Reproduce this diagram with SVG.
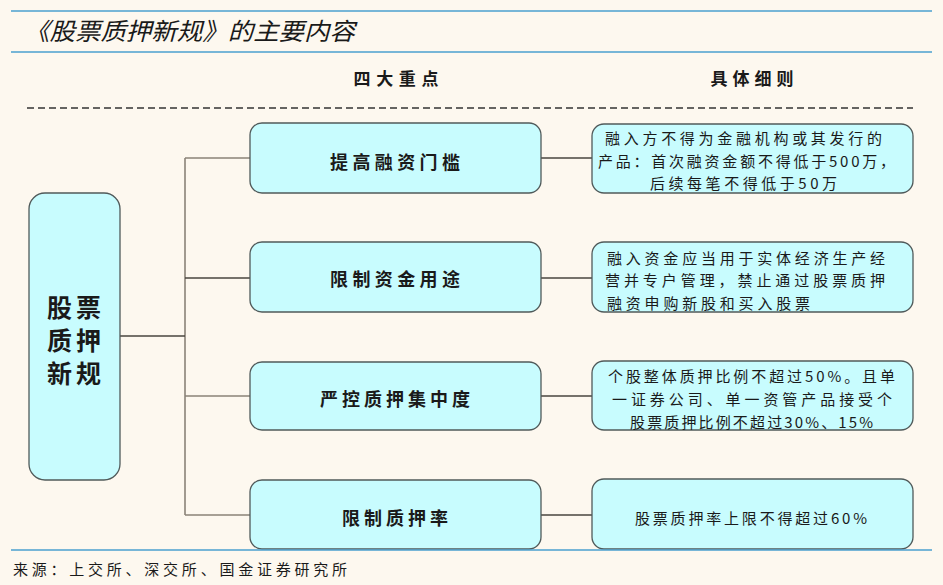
<svg xmlns="http://www.w3.org/2000/svg" width="943" height="585" viewBox="0 0 943 585">
<style>
.t{font-family:"Noto Sans CJK SC","Noto Sans",sans-serif;fill:#1a1a1a}
.mid{font-size:18px;font-weight:bold;text-anchor:middle;dominant-baseline:central}
.det{font-size:15px;dominant-baseline:central}
.hdr{font-size:17px;font-weight:bold;text-anchor:middle;dominant-baseline:central}
.big{font-size:25px;font-weight:bold;letter-spacing:4px;dominant-baseline:central}
.box{fill:#c8fcfe;stroke:#505a5a;stroke-width:1.3}
.conn{fill:none;stroke:#8a8378;stroke-width:1.6}
.connd{fill:none;stroke:#4a4640;stroke-width:1.3}
.blue{stroke:#4aa0cf;stroke-width:1.6}
</style>
<rect width="943" height="585" fill="#fdf8ef"/>
<line class="blue" x1="11" y1="11" x2="932" y2="11"/>
<line class="blue" x1="11" y1="52" x2="932" y2="52"/>
<text class="t" x="24" y="40" font-size="24" font-style="italic" textLength="331" lengthAdjust="spacingAndGlyphs">《股票质押新规》的主要内容</text>
<text class="t hdr" x="396" y="77" textLength="85" lengthAdjust="spacing">四大重点</text>
<text class="t hdr" x="752" y="77" textLength="83" lengthAdjust="spacing">具体细则</text>
<line x1="27" y1="108" x2="913" y2="108" stroke="#333" stroke-width="1.6" stroke-dasharray="7 4"/>
<g id="connectors">
<path class="conn" d="M185 158V515M185 158H250M185 396H250M185 515H250"/>
<path class="connd" d="M120 336H185M185 278H250M541 158H592M541 278H592M541 396H592M541 515H592"/>
</g>
<g id="main">
<rect class="box" x="29" y="193" width="91" height="287" rx="16"/>
<text class="t big" x="47" y="306">股票</text>
<text class="t big" x="47" y="339">质押</text>
<text class="t big" x="47" y="372">新规</text>
</g>
<g id="k1">
<rect class="box" x="250" y="123" width="291" height="70" rx="12"/>
<text class="t mid" x="395" y="161" textLength="130" lengthAdjust="spacing">提高融资门槛</text>
</g>
<g id="k2">
<rect class="box" x="250" y="242" width="291" height="70" rx="12"/>
<text class="t mid" x="395" y="278" textLength="130" lengthAdjust="spacing">限制资金用途</text>
</g>
<g id="k3">
<rect class="box" x="250" y="362" width="291" height="68" rx="12"/>
<text class="t mid" x="395" y="398" textLength="150" lengthAdjust="spacing">严控质押集中度</text>
</g>
<g id="k4">
<rect class="box" x="250" y="480" width="291" height="69" rx="12"/>
<text class="t mid" x="395" y="517" textLength="106" lengthAdjust="spacing">限制质押率</text>
</g>
<g id="d1">
<rect class="box" x="592" y="124" width="321" height="69" rx="12"/>
<text class="t det" x="605" y="137" textLength="277" lengthAdjust="spacing">融入方不得为金融机构或其发行的</text>
<text class="t det" x="598" y="160" textLength="297" lengthAdjust="spacing">产品：首次融资金额不得低于500万，</text>
<text class="t det" x="650" y="182" textLength="187" lengthAdjust="spacing">后续每笔不得低于50万</text>
</g>
<g id="d2">
<rect class="box" x="592" y="242" width="321" height="70" rx="12"/>
<text class="t det" x="607" y="257" textLength="278" lengthAdjust="spacing">融入资金应当用于实体经济生产经</text>
<text class="t det" x="605" y="279" textLength="280" lengthAdjust="spacing">营并专户管理，禁止通过股票质押</text>
<text class="t det" x="607" y="302" textLength="203" lengthAdjust="spacing">融资申购新股和买入股票</text>
</g>
<g id="d3">
<rect class="box" x="592" y="361" width="321" height="69" rx="12"/>
<text class="t det" x="608" y="375" textLength="287" lengthAdjust="spacing">个股整体质押比例不超过50%。且单</text>
<text class="t det" x="612" y="398" textLength="280" lengthAdjust="spacing">一证券公司、单一资管产品接受个</text>
<text class="t det" x="630" y="421" textLength="243" lengthAdjust="spacing">股票质押比例不超过30%、15%</text>
</g>
<g id="d4">
<rect class="box" x="592" y="479" width="321" height="70" rx="12"/>
<text class="t det" x="635" y="517" textLength="232" lengthAdjust="spacing">股票质押率上限不得超过60%</text>
</g>
<line class="blue" x1="11" y1="550" x2="932" y2="550"/>
<text class="t" x="13" y="568" font-size="15" dominant-baseline="central" textLength="334" lengthAdjust="spacing">来源：上交所、深交所、国金证券研究所</text>
</svg>
